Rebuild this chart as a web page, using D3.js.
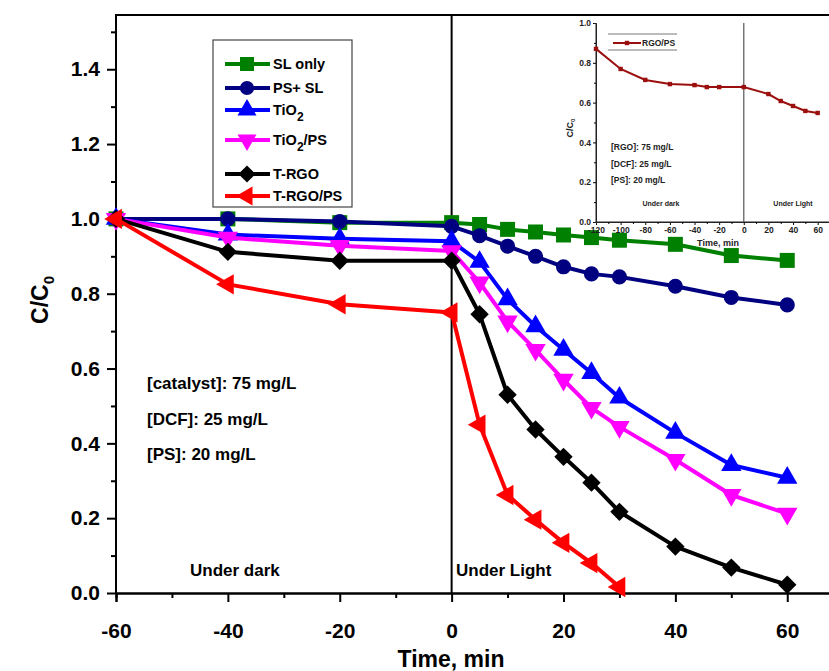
<!DOCTYPE html>
<html>
<head>
<meta charset="utf-8">
<script src="https://cdn.jsdelivr.net/npm/d3@7"></script>
<style>
  body { margin: 0; background: #fff; }
  text { font-family: "Liberation Sans", Arial, sans-serif; font-weight: bold; }
</style>
</head>
<body>
<script>
var svgWidth = 829;
var svgHeight = 671;

// main chart data
var times = [-60, -40, -20, 0, 5, 10, 15, 20, 25, 30, 40, 50, 60];
var slOnly = [1.0, 1.0, 0.99, 0.99, 0.985, 0.972, 0.965, 0.957, 0.95, 0.943, 0.932, 0.902, 0.889];
var psSl = [1.0, 1.0, 0.993, 0.98, 0.955, 0.927, 0.9, 0.872, 0.853, 0.845, 0.82, 0.79, 0.77];
var tio2 = [1.0, 0.958, 0.947, 0.94, 0.885, 0.785, 0.713, 0.65, 0.588, 0.522, 0.428, 0.342, 0.308];
var tio2Ps = [1.0, 0.95, 0.928, 0.914, 0.83, 0.726, 0.65, 0.57, 0.495, 0.444, 0.356, 0.262, 0.212];
var tRgo = [1.0, 0.912, 0.888, 0.888, 0.745, 0.53, 0.437, 0.364, 0.295, 0.217, 0.124, 0.068, 0.022];
var timesRed = [-60, -40, -20, 0, 5, 10, 15, 20, 25, 30];
var tRgoPs = [1.0, 0.825, 0.772, 0.75, 0.45, 0.262, 0.196, 0.134, 0.08, 0.016];

var xTicks = [-60, -40, -20, 0, 20, 40, 60];
var yTicks = [0, 0.2, 0.4, 0.6, 0.8, 1.0, 1.2, 1.4];

// inset data
var insetTimes = [-120, -100, -80, -60, -40, -30, -20, 0, 20, 30, 40, 50, 60];
var rgoPs = [0.87, 0.769, 0.714, 0.693, 0.688, 0.678, 0.678, 0.678, 0.643, 0.608, 0.583, 0.558, 0.548];
var insetXTicks = [-120, -100, -80, -60, -40, -20, 0, 20, 40, 60];
var insetYTicks = [0, 0.2, 0.4, 0.6, 0.8, 1.0];

var series = [
    {name: "SL only", x: times, y: slOnly, color: "#008000", shape: "square"},
    {name: "PS+ SL", x: times, y: psSl, color: "#000080", shape: "circle"},
    {name: "TiO2", x: times, y: tio2, color: "#0000ff", shape: "up"},
    {name: "TiO2/PS", x: times, y: tio2Ps, color: "#ff00ff", shape: "down"},
    {name: "T-RGO", x: times, y: tRgo, color: "#000000", shape: "diamond"},
    {name: "T-RGO/PS", x: timesRed, y: tRgoPs, color: "#ff0000", shape: "left"}
];

var svg = d3.select("body")
    .append("svg")
    .attr("width", svgWidth)
    .attr("height", svgHeight);

var x = d3.scaleLinear().domain([-60, 68]).range([116, 832]);
var y = d3.scaleLinear().domain([0, 1.545]).range([593, 15]);

// marker paths
function markerPath(shape, s) {
    if (shape == "square") return d3.symbol().type(d3.symbolSquare).size(s * s)();
    if (shape == "circle") return d3.symbol().type(d3.symbolCircle).size(s * s * 0.8)();
    if (shape == "diamond") return d3.symbol().type(d3.symbolSquare).size(s * s * 0.75)();
    return d3.symbol().type(d3.symbolTriangle).size(s * s * 0.8)();
}
function markerRotate(shape) {
    if (shape == "down") return 180;
    if (shape == "left") return -90;
    if (shape == "diamond") return 45;
    return 0;
}

// plain hyphen for negatives, like the original
var hyph = function(d) { return String(d); };

// frame
svg.append("line").attr("x1", 116).attr("x2", 829).attr("y1", 15).attr("y2", 15)
    .attr("stroke", "#000").attr("stroke-width", 2);

// axes
var bottomAxis = d3.axisBottom(x).tickValues(xTicks).tickSize(9).tickPadding(21).tickFormat(hyph);
var bottomMinor = d3.axisBottom(x).tickValues(d3.range(-50, 70, 20)).tickSize(5).tickFormat("");
var leftAxis = d3.axisLeft(y).tickValues(yTicks).tickSize(9).tickPadding(7).tickFormat(d3.format(".1f"));
var leftMinor = d3.axisLeft(y).tickValues(d3.range(0.1, 1.6, 0.2)).tickSize(5).tickFormat("");

[bottomAxis, bottomMinor].forEach(function(a) {
    var g = svg.append("g").attr("transform", "translate(0,593)").call(a);
    g.select(".domain").attr("stroke-width", 2);
    g.selectAll(".tick line").attr("stroke-width", 2);
    g.selectAll("text").attr("font-size", 21).attr("fill", "#000");
});
[leftAxis, leftMinor].forEach(function(a) {
    var g = svg.append("g").attr("transform", "translate(116,0)").call(a);
    g.select(".domain").attr("stroke-width", 2).attr("d", "M0,14V593");
    g.selectAll(".tick line").attr("stroke-width", 2);
    g.selectAll("text").attr("font-size", 21).attr("fill", "#000");
});

// dark/light divider
svg.append("line").attr("x1", x(0)).attr("x2", x(0)).attr("y1", 15).attr("y2", 593)
    .attr("stroke", "#000").attr("stroke-width", 2);

// axis titles
svg.append("text").attr("x", 451).attr("y", 667).attr("text-anchor", "middle")
    .attr("font-size", 23).text("Time, min");
var yl = svg.append("text").attr("transform", "translate(48,300) rotate(-90)")
    .attr("text-anchor", "middle").attr("font-size", 23);
yl.append("tspan").text("C/C");
yl.append("tspan").attr("font-size", 15).attr("dy", 6).text("0");

// series
var line = d3.line();
series.forEach(function(s) {
    var pts = s.x.map(function(t, i) { return [x(t), y(s.y[i])]; });
    svg.append("path").attr("d", line(pts)).attr("fill", "none")
        .attr("stroke", s.color).attr("stroke-width", 4).attr("stroke-linejoin", "round");
    svg.selectAll(null).data(pts).enter().append("path")
        .attr("d", markerPath(s.shape, 15))
        .attr("transform", function(p) { return "translate(" + p[0] + "," + p[1] + ") rotate(" + markerRotate(s.shape) + ")"; })
        .attr("fill", s.color);
});

// legend
var legY = [64, 88, 110, 140, 174, 196];
svg.append("rect").attr("x", 213).attr("y", 40).attr("width", 139).attr("height", 167)
    .attr("fill", "none").attr("stroke", "#444").attr("stroke-width", 1.2);
series.forEach(function(s, i) {
    var ly = legY[i];
    svg.append("line").attr("x1", 225).attr("x2", 270).attr("y1", ly).attr("y2", ly)
        .attr("stroke", s.color).attr("stroke-width", 4);
    svg.append("path").attr("d", markerPath(s.shape, 14))
        .attr("transform", "translate(247," + ly + ") rotate(" + markerRotate(s.shape) + ")")
        .attr("fill", s.color);
    var t = svg.append("text").attr("x", 273).attr("y", ly + 5).attr("font-size", 14.5);
    if (s.name.indexOf("TiO2") == 0) {
        t.append("tspan").text("TiO");
        t.append("tspan").attr("dy", 6).attr("font-size", 12).text("2");
        if (s.name.length > 4) t.append("tspan").attr("dy", -6).text("/PS");
    } else {
        t.text(s.name);
    }
});

// annotations
var notes = ["[catalyst]: 75 mg/L", "[DCF]: 25 mg/L", "[PS]: 20 mg/L"];
notes.forEach(function(n, i) {
    svg.append("text").attr("x", 147).attr("y", 389 + i * 35.5).attr("font-size", 17).text(n);
});
svg.append("text").attr("x", 190).attr("y", 576).attr("font-size", 17).text("Under dark");
svg.append("text").attr("x", 456).attr("y", 576).attr("font-size", 17).text("Under Light");

// ---- inset ----
var ix = d3.scaleLinear().domain([-120, 70]).range([596, 830]);
var iy = d3.scaleLinear().domain([0, 1]).range([222, 23]);

var inset = svg.append("g");
var ib = inset.append("g").attr("transform", "translate(0,222)")
    .call(d3.axisBottom(ix).tickValues(insetXTicks).tickSize(3).tickPadding(2).tickFormat(hyph));
inset.append("g").attr("transform", "translate(0,222)")
    .call(d3.axisBottom(ix).tickValues(d3.range(-110, 70, 20)).tickSize(2).tickFormat(""));
var il = inset.append("g").attr("transform", "translate(596,0)")
    .call(d3.axisLeft(iy).tickValues(insetYTicks).tickSize(3).tickPadding(2).tickFormat(d3.format(".1f")));
inset.append("g").attr("transform", "translate(596,0)")
    .call(d3.axisLeft(iy).tickValues(d3.range(0.1, 1.0, 0.2)).tickSize(2).tickFormat(""));
inset.selectAll(".domain").attr("stroke", "#222").attr("stroke-width", 1);
inset.selectAll("text").attr("font-size", 8.5).attr("fill", "#222");
ib.select(".domain").attr("d", "M596,0H830");
il.select(".domain").attr("d", "M0,23V222");

inset.append("line").attr("x1", ix(0)).attr("x2", ix(0)).attr("y1", 23).attr("y2", 222)
    .attr("stroke", "#555").attr("stroke-width", 1.2);

var ipts = insetTimes.map(function(t, i) { return [ix(t), iy(rgoPs[i])]; });
inset.append("path").attr("d", line(ipts)).attr("fill", "none")
    .attr("stroke", "#9b0f0f").attr("stroke-width", 2);
inset.selectAll(null).data(ipts).enter().append("rect")
    .attr("x", function(p) { return p[0] - 2.2; }).attr("y", function(p) { return p[1] - 2.2; })
    .attr("width", 4.4).attr("height", 4.4).attr("fill", "#9b0f0f");

// inset legend
inset.append("line").attr("x1", 608).attr("x2", 677).attr("y1", 34).attr("y2", 34).attr("stroke", "#555").attr("stroke-width", 0.8);
inset.append("line").attr("x1", 608).attr("x2", 677).attr("y1", 50).attr("y2", 50).attr("stroke", "#555").attr("stroke-width", 0.8);
inset.append("line").attr("x1", 613).attr("x2", 641).attr("y1", 43).attr("y2", 43).attr("stroke", "#9b0f0f").attr("stroke-width", 2);
inset.append("rect").attr("x", 624.8).attr("y", 40.8).attr("width", 4.4).attr("height", 4.4).attr("fill", "#9b0f0f");
inset.append("text").attr("x", 642).attr("y", 46).attr("font-size", 8.5).attr("fill", "#222").text("RGO/PS");

var inotes = ["[RGO]: 75 mg/L", "[DCF]: 25 mg/L", "[PS]: 20 mg/L"];
inotes.forEach(function(n, i) {
    inset.append("text").attr("x", 611).attr("y", 150 + i * 16.5).attr("font-size", 8.5).attr("fill", "#222").text(n);
});
inset.append("text").attr("x", 661).attr("y", 206).attr("text-anchor", "middle").attr("font-size", 7).attr("fill", "#222").text("Under dark");
inset.append("text").attr("x", 793).attr("y", 206).attr("text-anchor", "middle").attr("font-size", 7).attr("fill", "#222").text("Under Light");
inset.append("text").attr("x", 718).attr("y", 246).attr("text-anchor", "middle").attr("font-size", 9).attr("fill", "#222").text("Time, min");
var iyl = inset.append("text").attr("transform", "translate(573,128) rotate(-90)")
    .attr("text-anchor", "middle").attr("font-size", 9).attr("fill", "#222");
iyl.append("tspan").text("C/C");
iyl.append("tspan").attr("font-size", 6).attr("dy", 2).text("0");
</script>
</body>
</html>
